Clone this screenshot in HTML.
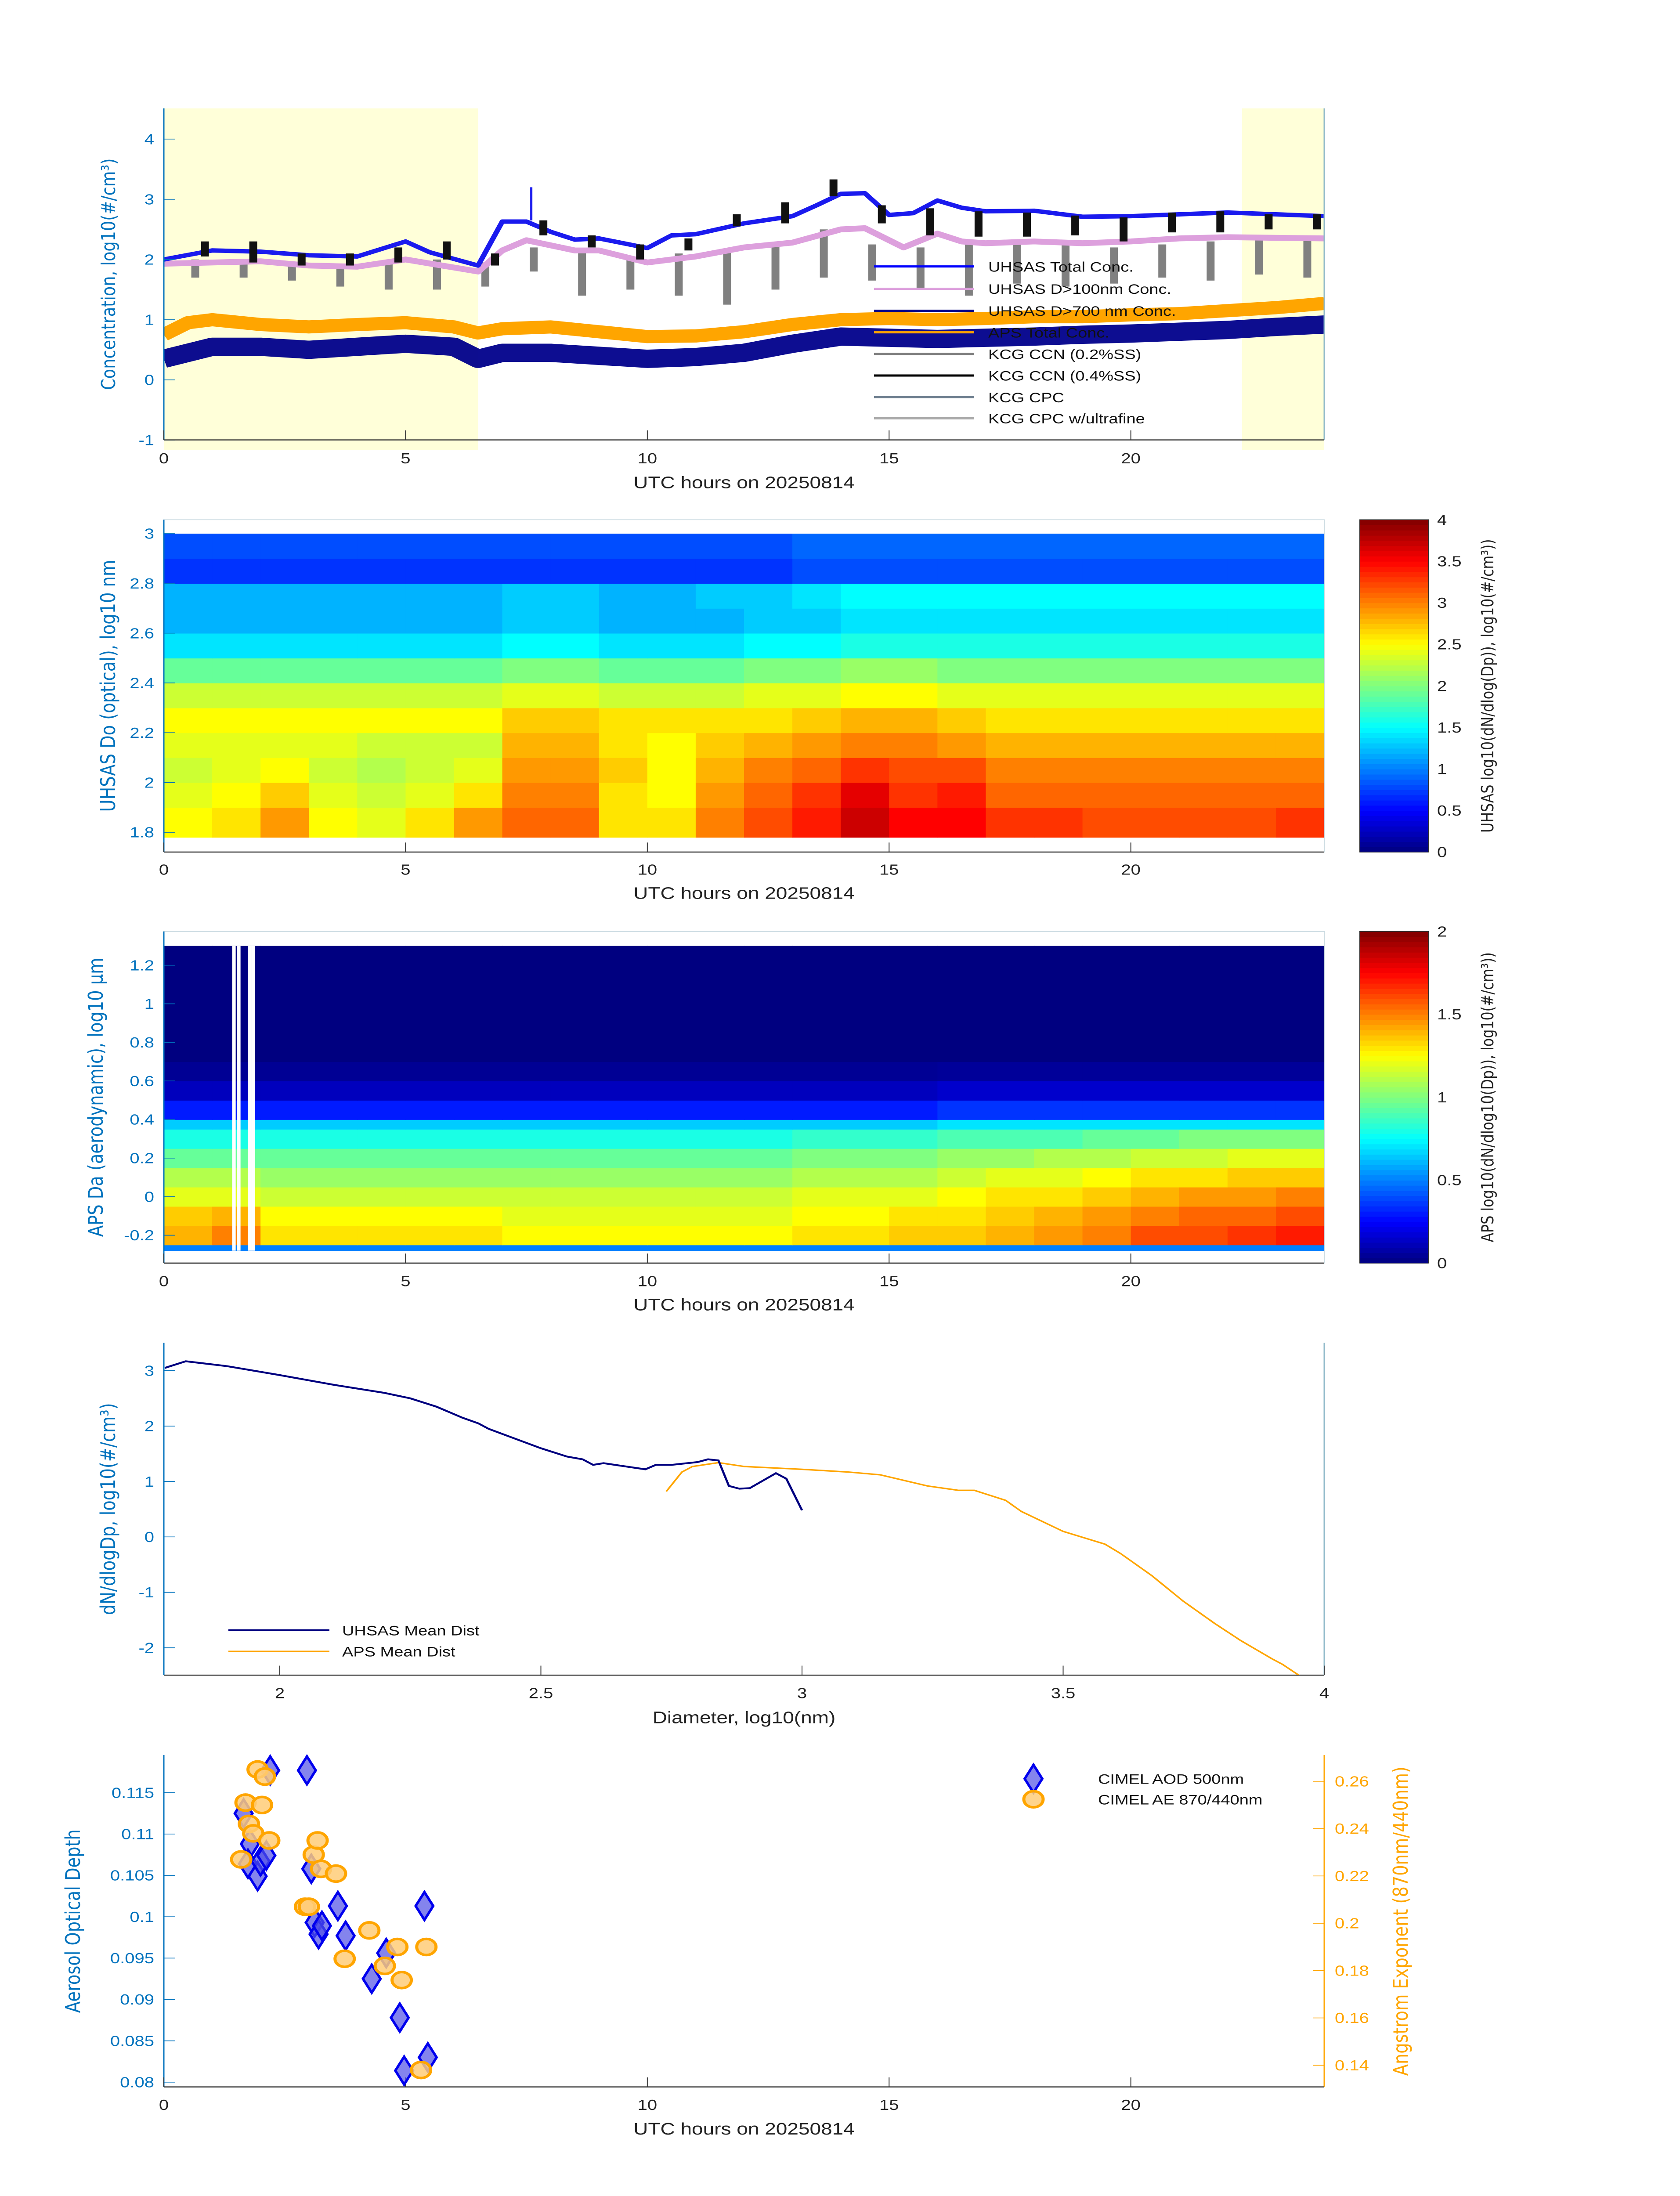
<!DOCTYPE html>
<html><head><meta charset="utf-8">
<meta name="viewport" content="width=3825">
<style>
html,body{margin:0;padding:0;background:#fff;width:100%;height:100%;overflow:hidden;}
svg{display:block;position:fixed;left:0;top:0;width:100vw;height:100vh;}
text{font-family:"Liberation Sans",sans-serif;}
</style></head>
<body>
<svg id="fig" viewBox="0 0 3825 6000" preserveAspectRatio="none" xmlns="http://www.w3.org/2000/svg">
<defs>
<clipPath id="c4"><rect x="373" y="3669" width="2642" height="908"/></clipPath>
<clipPath id="c1"><rect x="373" y="296" width="2642" height="906"/></clipPath>
</defs>
</svg>
<script>
// ===== Panel 1 data =====
const blueT=[0,1,2,3,4,5,5.5,6.5,7,7.5,8,8.5,9,10,10.5,11,12,13,13.5,14,14.5,15,15.5,16,16.5,17,18,19,20,21,22,23,24];
const blueV=[2.0,2.15,2.13,2.07,2.05,2.3,2.12,1.9,2.63,2.63,2.46,2.33,2.35,2.19,2.4,2.42,2.6,2.72,2.9,3.09,3.1,2.74,2.77,2.98,2.86,2.8,2.81,2.71,2.72,2.75,2.78,2.75,2.72];
const pinkT=[0,2,3,4,5,6.5,7,7.5,8.5,9,10,11,12,13,14,14.5,15.3,16,16.5,17,18,19,20,21,22,24];
const pinkV=[1.93,1.97,1.9,1.88,2.0,1.8,2.15,2.32,2.15,2.15,1.95,2.05,2.2,2.28,2.5,2.52,2.2,2.43,2.3,2.27,2.3,2.27,2.3,2.35,2.37,2.35];
const apsT=[0,0.5,1,2,3,4,5,6,6.5,7,8,9,10,11,12,13,14,15,16,17,18,19,20,21,22,23,24];
const apsV=[0.75,0.95,1.0,0.92,0.88,0.92,0.95,0.88,0.78,0.85,0.88,0.8,0.72,0.73,0.8,0.92,1.0,1.02,1.0,1.02,1.05,1.05,1.08,1.1,1.15,1.2,1.27];
const navT=[0,1,2,3,4,5,6,6.5,7,8,9,10,11,12,13,14,15,16,17,18,19,20,21,22,23,24];
const navV=[0.35,0.55,0.55,0.5,0.55,0.6,0.55,0.35,0.45,0.45,0.4,0.35,0.38,0.45,0.6,0.72,0.7,0.68,0.7,0.72,0.75,0.77,0.8,0.83,0.88,0.92];
const ccnBlackTop=[2.3,2.3,2.1,2.1,2.2,2.3,2.1,2.65,2.4,2.25,2.35,2.75,2.95,3.33,2.9,2.85,2.8,2.78,2.73,2.7,2.78,2.8,2.75,2.75];
const ccnBlackBot=[2.05,1.95,1.9,1.9,1.95,2.0,1.9,2.4,2.2,2.0,2.15,2.55,2.6,3.05,2.6,2.4,2.38,2.38,2.4,2.3,2.45,2.45,2.5,2.5];
const ccnGreyTop=[2.0,2.0,1.95,1.9,1.95,2.0,1.95,2.2,2.15,2.05,2.1,2.15,2.25,2.5,2.25,2.2,2.25,2.25,2.25,2.2,2.25,2.3,2.35,2.35];
const ccnGreyBot=[1.7,1.7,1.65,1.55,1.5,1.5,1.55,1.8,1.4,1.5,1.4,1.25,1.5,1.7,1.65,1.5,1.4,1.6,1.55,1.6,1.7,1.65,1.75,1.7];
const p1Yticks=[-1,0,1,2,3,4];
const xTicksHours=[0,5,10,15,20];
// ===== Panel 2 data =====
const uhsasEdges=[1.78,1.9,2.0,2.1,2.2,2.3,2.4,2.5,2.6,2.7,2.8,2.9,3.0];
const uhsasGrid=[
[2.5,2.6,2.9,2.5,2.4,2.6,2.9,3.1,3.1,2.6,2.6,3.0,3.2,3.4,3.7,3.5,3.5,3.3,3.3,3.2,3.2,3.2,3.2,3.3],
[2.4,2.5,2.7,2.4,2.3,2.4,2.6,3.0,3.0,2.6,2.5,2.9,3.1,3.3,3.6,3.3,3.4,3.1,3.1,3.1,3.1,3.1,3.1,3.1],
[2.3,2.4,2.5,2.3,2.2,2.3,2.4,2.9,2.9,2.7,2.5,2.8,3.0,3.1,3.3,3.2,3.2,3.0,3.0,3.0,3.0,3.0,3.0,3.0],
[2.4,2.4,2.4,2.4,2.3,2.3,2.3,2.8,2.8,2.6,2.5,2.7,2.8,2.9,3.0,3.0,2.9,2.8,2.8,2.8,2.8,2.8,2.8,2.8],
[2.5,2.5,2.5,2.5,2.5,2.5,2.5,2.7,2.7,2.6,2.6,2.6,2.6,2.7,2.8,2.8,2.7,2.6,2.6,2.6,2.6,2.6,2.6,2.6],
[2.3,2.3,2.3,2.3,2.3,2.3,2.3,2.4,2.4,2.3,2.3,2.3,2.4,2.4,2.5,2.5,2.4,2.4,2.4,2.4,2.4,2.4,2.4,2.4],
[1.9,1.9,1.9,1.9,1.9,1.9,1.9,2.0,2.0,1.9,1.9,1.9,2.0,2.0,2.1,2.1,2.0,2.0,2.0,2.0,2.0,2.0,2.0,2.0],
[1.4,1.4,1.4,1.4,1.4,1.4,1.4,1.5,1.5,1.4,1.4,1.4,1.5,1.5,1.6,1.6,1.6,1.6,1.6,1.6,1.6,1.6,1.6,1.6],
[1.2,1.2,1.2,1.2,1.2,1.2,1.2,1.3,1.3,1.2,1.2,1.2,1.3,1.3,1.4,1.4,1.4,1.4,1.4,1.4,1.4,1.4,1.4,1.4],
[1.2,1.2,1.2,1.2,1.2,1.2,1.2,1.3,1.3,1.2,1.2,1.3,1.3,1.4,1.5,1.5,1.5,1.5,1.5,1.5,1.5,1.5,1.5,1.5],
[0.7,0.7,0.7,0.7,0.7,0.7,0.7,0.7,0.7,0.7,0.7,0.7,0.7,0.8,0.8,0.8,0.8,0.8,0.8,0.8,0.8,0.8,0.8,0.8],
[0.8,0.8,0.8,0.8,0.8,0.8,0.8,0.8,0.8,0.8,0.8,0.8,0.8,0.9,0.9,0.9,0.9,0.9,0.9,0.9,0.9,0.9,0.9,0.9]];
const p2Yticks=[1.8,2.0,2.2,2.4,2.6,2.8,3.0];
const cb2Ticks=[0,0.5,1,1.5,2,2.5,3,3.5,4];
// ===== Panel 3 data =====
const apsEdges=[-0.28,-0.25,-0.15,-0.05,0.05,0.15,0.25,0.35,0.4,0.5,0.6,0.7,1.3];
const apsGrid=[
[0.5,0.5,0.5,0.5,0.5,0.5,0.5,0.5,0.5,0.5,0.5,0.5,0.5,0.5,0.5,0.5,0.5,0.5,0.5,0.5,0.5,0.5,0.5,0.5],
[1.4,1.5,1.3,1.3,1.3,1.3,1.3,1.25,1.25,1.25,1.25,1.25,1.25,1.3,1.3,1.35,1.35,1.4,1.45,1.5,1.6,1.6,1.65,1.7],
[1.35,1.4,1.25,1.25,1.25,1.25,1.25,1.2,1.2,1.2,1.2,1.2,1.2,1.25,1.25,1.3,1.3,1.35,1.4,1.45,1.5,1.55,1.55,1.6],
[1.2,1.2,1.15,1.15,1.15,1.15,1.15,1.15,1.15,1.15,1.15,1.15,1.15,1.2,1.2,1.2,1.25,1.3,1.3,1.35,1.4,1.45,1.45,1.5],
[1.1,1.1,1.05,1.05,1.05,1.05,1.05,1.05,1.05,1.05,1.05,1.05,1.05,1.1,1.1,1.1,1.15,1.2,1.2,1.25,1.3,1.3,1.35,1.35],
[0.95,0.95,0.95,0.95,0.95,0.95,0.95,0.95,0.95,0.95,0.95,0.95,0.95,1.0,1.0,1.0,1.05,1.05,1.1,1.1,1.15,1.15,1.2,1.2],
[0.8,0.8,0.8,0.8,0.8,0.8,0.8,0.8,0.8,0.8,0.8,0.8,0.8,0.85,0.85,0.85,0.9,0.9,0.9,0.95,0.95,1.0,1.0,1.0],
[0.65,0.65,0.65,0.65,0.65,0.65,0.65,0.65,0.65,0.65,0.65,0.65,0.65,0.65,0.65,0.65,0.7,0.7,0.7,0.7,0.7,0.7,0.7,0.7],
[0.3,0.3,0.3,0.3,0.3,0.3,0.3,0.3,0.3,0.3,0.3,0.3,0.3,0.3,0.3,0.3,0.35,0.35,0.35,0.35,0.35,0.35,0.35,0.35],
[0.12,0.12,0.12,0.12,0.12,0.12,0.12,0.12,0.12,0.12,0.12,0.12,0.12,0.12,0.12,0.12,0.15,0.15,0.15,0.15,0.15,0.15,0.15,0.15],
[0.04,0.04,0.04,0.04,0.04,0.04,0.04,0.04,0.04,0.04,0.04,0.04,0.04,0.04,0.04,0.04,0.05,0.05,0.05,0.05,0.05,0.05,0.05,0.05],
[0,0,0,0,0,0,0,0,0,0,0,0,0,0,0,0,0,0,0,0,0,0,0,0]];
const apsGapHours=[1.45,1.55,1.78,1.85];
const p3Yticks=[-0.2,0,0.2,0.4,0.6,0.8,1,1.2];
const cb3Ticks=[0,0.5,1,1.5,2];
// ===== Panel 4 data =====
const uhsasDistX=[1.78,1.82,1.9,1.95,2.0,2.1,2.12,2.2,2.25,2.3,2.35,2.38,2.4,2.5,2.55,2.58,2.6,2.62,2.7,2.72,2.75,2.8,2.82,2.84,2.86,2.88,2.9,2.95,2.97,3.0];
const uhsasDistY=[3.05,3.17,3.08,3.0,2.92,2.75,2.72,2.6,2.5,2.35,2.15,2.05,1.95,1.6,1.45,1.4,1.3,1.33,1.22,1.3,1.3,1.35,1.4,1.38,0.92,0.87,0.88,1.15,1.05,0.48];
const apsDistX=[2.74,2.77,2.79,2.84,2.89,3.0,3.09,3.15,3.24,3.3,3.33,3.39,3.42,3.5,3.58,3.61,3.67,3.73,3.79,3.84,3.9,3.92,3.96];
const apsDistY=[0.82,1.17,1.27,1.34,1.27,1.22,1.17,1.12,0.92,0.84,0.84,0.66,0.46,0.1,-0.13,-0.3,-0.7,-1.16,-1.56,-1.87,-2.2,-2.3,-2.55];
const p4Xticks=[2,2.5,3,3.5,4];
const p4Yticks=[-2,-1,0,1,2,3];
// ===== Panel 5 data =====
const aodT=[1.65,1.78,1.74,1.94,2.0,2.12,2.2,2.96,3.05,3.12,3.2,3.27,3.6,3.76,4.3,4.6,4.88,4.97,5.39,5.46];
const aodV=[0.1125,0.1088,0.1064,0.1049,0.1067,0.1074,0.1177,0.1177,0.1058,0.0993,0.0979,0.0989,0.1013,0.0977,0.0925,0.0956,0.0878,0.0814,0.1013,0.083];
const aeT=[1.6,1.69,1.76,1.85,1.94,2.03,2.09,2.18,2.92,3.0,3.1,3.18,3.25,3.56,3.74,4.25,4.57,4.83,4.92,5.32,5.43];
const aeV=[0.227,0.251,0.242,0.238,0.265,0.250,0.262,0.235,0.207,0.207,0.229,0.235,0.223,0.221,0.185,0.197,0.182,0.19,0.176,0.138,0.19];
const p5Lticks=[0.08,0.085,0.09,0.095,0.1,0.105,0.11,0.115];
const p5Lfmt=['0.08','0.085','0.09','0.095','0.1','0.105','0.11','0.115'];
const p5Rticks=[0.14,0.16,0.18,0.2,0.22,0.24,0.26];

const svg=document.getElementById('fig');
const NS='http://www.w3.org/2000/svg';
function mk(tag,attrs,parent){const e=document.createElementNS(NS,tag);for(const k in attrs)e.setAttribute(k,attrs[k]);(parent||svg).appendChild(e);return e;}
function txt(s,attrs,parent){const e=mk('text',attrs,parent);e.textContent=s;return e;}
function jet(v,lo,hi){let t=(v-lo)/(hi-lo);t=Math.max(0,Math.min(1,t));const c=x=>Math.round(255*Math.max(0,Math.min(1,1.5-Math.abs(4*t-x))));return 'rgb('+c(3)+','+c(2)+','+c(1)+')';}
function poly(xs,ys,fx,fy){return xs.map((x,i)=>fx(x).toFixed(1)+','+fy(ys[i]).toFixed(1)).join(' ');}

const X0=373,X1=3015;
const xh=t=>X0+t/24*(X1-X0);
const BLUE='#0072BD';

function xAxisHours(top,bot,labY,titleY,name){
  const ax=mk('line',{x1:X0,y1:bot,x2:X1,y2:bot,stroke:'#333',"stroke-width":3});
  
  
  xTicksHours.forEach(t=>{
    const tk=mk('line',{x1:xh(t),y1:bot,x2:xh(t),y2:bot-26,stroke:'#333',"stroke-width":2});
    
    
    const l=txt(String(t),{x:xh(t),y:labY,"font-size":40,"text-anchor":"middle",fill:'#222'});
    
    
  });
  const tt=txt('UTC hours on 20250814',{x:(X0+X1)/2,y:titleY,"font-size":46,"text-anchor":"middle",fill:'#222'});
  
  
}
function yAxisLeft(top,bot,ticks,fy,name,fmt,color){
  const ax=mk('line',{x1:X0,y1:top,x2:X0,y2:bot,stroke:color||BLUE,"stroke-width":3});
  
  
  ticks.forEach((v,i)=>{
    const tk=mk('line',{x1:X0,y1:fy(v),x2:X0+26,y2:fy(v),stroke:color||BLUE,"stroke-width":2});
    
    
    const l=txt(fmt?fmt[i]:String(v),{x:X0-22,y:fy(v)+14,"font-size":40,"text-anchor":"end",fill:color||BLUE});
    
    
  });
}
function yTitle(s,x,cy,name,color,size){
  const t=txt(s,{x:0,y:0,"font-size":size||46,"text-anchor":"middle",fill:color||BLUE,transform:'translate('+x+','+cy+') rotate(-90)',style:'font-family:"DejaVu Sans",sans-serif'});
  
  
  return t;
}
function colorbar(top,bot,lo,hi,ticks,label,name){
  const cx0=3096,cx1=3252,n=64,h=(bot-top)/n;
  for(let i=0;i<n;i++){
    const r=mk('rect',{x:cx0,y:bot-(i+1)*h,width:cx1-cx0,height:h+1,fill:jet(lo+(i+0.5)/n*(hi-lo),lo,hi)});
    
    
  }
  const b=mk('rect',{x:cx0,y:top,width:cx1-cx0,height:bot-top,fill:'none',stroke:'#333',"stroke-width":2});
  
  
  ticks.forEach(v=>{
    const y=bot-(v-lo)/(hi-lo)*(bot-top);
    const l=txt(String(v),{x:3272,y:y+14,"font-size":40,fill:'#222'});
    
    
  });
  const t=txt(label,{x:0,y:0,"font-size":38,"text-anchor":"middle",fill:'#222',transform:'translate(3400,'+((top+bot)/2)+') rotate(-90)',style:'font-family:"DejaVu Sans",sans-serif'});
  
  
}

// ================= PANEL 1 =================
(function(){
  const top=296,bot=1202;
  const fy=v=>1038-v*164.5;
  const sh1=mk('rect',{x:xh(0),y:top,width:xh(6.5)-xh(0),height:bot-top+28,fill:'#ffffd9'});
  
  
  const sh2=mk('rect',{x:xh(22.3),y:top,width:xh(24)-xh(22.3),height:bot-top+28,fill:'#ffffd9'});
  
  
  const g=mk('g',{"clip-path":'url(#c1)'});
  
  
  ccnGreyTop.forEach((v,i)=>{
    const x=xh(i+0.65);
    const r=mk('rect',{x:x-9,y:fy(v),width:18,height:fy(ccnGreyBot[i])-fy(v),fill:'#808080'},g);
    
    
  });
  const n=mk('polyline',{points:poly(navT,navV,xh,fy),fill:'none',stroke:'#00008B',"stroke-width":50,"stroke-linejoin":'round',opacity:0.95},g);
  
  
  const o=mk('polyline',{points:poly(apsT,apsV,xh,fy),fill:'none',stroke:'#FFA500',"stroke-width":36,"stroke-linejoin":'round'},g);
  
  
  const p=mk('polyline',{points:poly(pinkT,pinkV,xh,fy),fill:'none',stroke:'#DDA0DD',"stroke-width":16,"stroke-linejoin":'round'},g);
  
  
  const b=mk('polyline',{points:poly(blueT,blueV,xh,fy),fill:'none',stroke:'#1a1aee',"stroke-width":12,"stroke-linejoin":'round'},g);
  
  
  const sp=mk('line',{x1:xh(7.6),y1:fy(3.2),x2:xh(7.6),y2:fy(2.65),stroke:'#1a1aee',"stroke-width":5},g);
  
  
  ccnBlackTop.forEach((v,i)=>{
    const x=xh(i+0.85);
    const r=mk('rect',{x:x-9,y:fy(v),width:18,height:fy(ccnBlackBot[i])-fy(v),fill:'#111'},g);
    
    
  });
  const ax=mk('line',{x1:X1,y1:top,x2:X1,y2:bot,stroke:'#8fb8c8',"stroke-width":3});
  
  
  yAxisLeft(top,bot,p1Yticks,fy,'panel1');
  xAxisHours(top,bot,1266,1334,'panel1');
  yTitle('Concentration, log10(#/cm³)',262,(top+bot)/2,'panel1-y-axis-title',BLUE,44);
  const legNames=['UHSAS Total Conc.','UHSAS D>100nm Conc.','UHSAS D>700 nm Conc.','APS Total Conc.','KCG CCN (0.2%SS)','KCG CCN (0.4%SS)','KCG CPC','KCG CPC w/ultrafine'];
  const legCols=['#0000ff','#DDA0DD','#00008B','#FFA500','#808080','#000000','#708090','#aaaaaa'];
  const legY=[728,789,849,908,967,1026,1085,1143];
  legNames.forEach((s,i)=>{
    const l=mk('line',{x1:1990,y1:legY[i],x2:2218,y2:legY[i],stroke:legCols[i],"stroke-width":6});
    
    
    const t=txt(s,{x:2250,y:legY[i]+14,"font-size":38,fill:'#111'});
    
    
  });
})();

// ================= PANEL 2 =================
(function(){
  const top=1420,bot=2328;
  const fy=d=>2274-(d-1.8)*680;
  uhsasGrid.forEach((row,ri)=>{
    row.forEach((v,ci)=>{
      const y0=fy(uhsasEdges[ri+1]),y1=fy(uhsasEdges[ri]);
      const r=mk('rect',{x:xh(ci),y:y0,width:xh(ci+1)-xh(ci)+1,height:y1-y0+1,fill:jet(v,0,4)});
      
      
    });
  });
  const ax=mk('rect',{x:X0,y:top,width:X1-X0,height:bot-top,fill:'none',stroke:'#c9d9e0',"stroke-width":2});
  
  
  yAxisLeft(top,bot,p2Yticks,fy,'panel2',['1.8','2','2.2','2.4','2.6','2.8','3']);
  xAxisHours(top,bot,2390,2456,'panel2');
  yTitle('UHSAS Do (optical), log10 nm',262,1874,'panel2-y-axis-title');
  colorbar(top,bot,0,4,cb2Ticks,'UHSAS log10(dN/dlog(Dp)), log10(#/cm³))','panel2');
})();

// ================= PANEL 3 =================
(function(){
  const top=2545,bot=3451;
  const fy=d=>3375-(d+0.2)*527;
  apsGrid.forEach((row,ri)=>{
    row.forEach((v,ci)=>{
      const y0=fy(apsEdges[ri+1]),y1=fy(apsEdges[ri]);
      const r=mk('rect',{x:xh(ci),y:y0,width:xh(ci+1)-xh(ci)+1,height:y1-y0+1,fill:jet(v,0,2)});
      
      
    });
  });
  apsGapHours.forEach(t=>{
    const r=mk('rect',{x:xh(t)-4,y:fy(1.3),width:8,height:fy(-0.28)-fy(1.3),fill:'#fff'});
    
    
  });
  const ax=mk('rect',{x:X0,y:top,width:X1-X0,height:bot-top,fill:'none',stroke:'#c9d9e0',"stroke-width":2});
  
  
  yAxisLeft(top,bot,p3Yticks,fy,'panel3');
  xAxisHours(top,bot,3514,3580,'panel3');
  yTitle('APS Da (aerodynamic), log10 μm',234,2998,'panel3-y-axis-title');
  colorbar(top,bot,0,2,cb3Ticks,'APS log10(dN/dlog10(Dp)), log10(#/cm³))','panel3');
})();

// ================= PANEL 4 =================
(function(){
  const top=3669,bot=4577;
  const fx=d=>637+(d-2)*1189;
  const fy=v=>3745-(v-3)*151.4;
  const ax=mk('line',{x1:X0,y1:bot,x2:X1,y2:bot,stroke:'#333',"stroke-width":3});
  
  
  const rx=mk('line',{x1:X1,y1:top,x2:X1,y2:bot,stroke:'#8fb8c8',"stroke-width":3});
  
  
  p4Xticks.forEach(d=>{
    const tk=mk('line',{x1:fx(d),y1:bot,x2:fx(d),y2:bot-26,stroke:'#333',"stroke-width":2});
    
    
    const l=txt(String(d),{x:fx(d),y:4640,"font-size":40,"text-anchor":"middle",fill:'#222'});
    
    
  });
  const tt=txt('Diameter,  log10(nm)',{x:1694,y:4708,"font-size":46,"text-anchor":"middle",fill:'#222'});
  
  
  yAxisLeft(top,bot,p4Yticks,fy,'panel4');
  yTitle('dN/dlogDp, log10(#/cm³)',262,4123,'panel4-y-axis-title');
  const g=mk('g',{"clip-path":'url(#c4)'});
  
  
  const a=mk('polyline',{points:poly(apsDistX,apsDistY,fx,fy),fill:'none',stroke:'#FFA500',"stroke-width":4},g);
  
  
  const u=mk('polyline',{points:poly(uhsasDistX,uhsasDistY,fx,fy),fill:'none',stroke:'#00007f',"stroke-width":5},g);
  
  
  const l1=mk('line',{x1:520,y1:4454,x2:750,y2:4454,stroke:'#00007f',"stroke-width":5});
  
  
  const t1=txt('UHSAS Mean Dist',{x:779,y:4468,"font-size":38,fill:'#111'});
  
  
  const l2=mk('line',{x1:520,y1:4512,x2:750,y2:4512,stroke:'#FFA500',"stroke-width":4});
  
  
  const t2=txt('APS Mean Dist',{x:779,y:4526,"font-size":38,fill:'#111'});
  
  
})();

// ================= PANEL 5 =================
(function(){
  const top=4795,bot=5702;
  const fy=a=>4898+(0.115-a)/0.005*113;
  const fr=v=>4867+(0.26-v)/0.02*129.3;
  yAxisLeft(top,bot,p5Lticks,fy,'panel5',p5Lfmt);
  const ra=mk('line',{x1:X1,y1:top,x2:X1,y2:bot,stroke:'#FFA500',"stroke-width":3});
  
  
  p5Rticks.forEach(v=>{
    const tk=mk('line',{x1:X1-26,y1:fr(v),x2:X1,y2:fr(v),stroke:'#FFA500',"stroke-width":2});
    
    
    const l=txt(String(v),{x:X1+24,y:fr(v)+14,"font-size":40,fill:'#FFA500'});
    
    
  });
  xAxisHours(top,bot,5765,5832,'panel5');
  yTitle('Aerosol Optical Depth',182,5249,'panel5-y-axis-title');
  const rt=txt('Angstrom Exponent (870nm/440nm)',{x:0,y:0,"font-size":46,"text-anchor":"middle",fill:'#FFA500',transform:'translate(3205,5249) rotate(-90)',style:'font-family:"DejaVu Sans",sans-serif'});
  
  
  function diamond(cx,cy){return (cx)+','+(cy-38)+' '+(cx+20)+','+cy+' '+cx+','+(cy+38)+' '+(cx-20)+','+cy;}
  aodT.forEach((t,i)=>{
    const d=mk('polygon',{points:diamond(xh(t),fy(aodV[i])),fill:'rgba(80,80,230,0.7)',stroke:'#0000ee',"stroke-width":6});
    
    
  });
  aeT.forEach((t,i)=>{
    const c=mk('circle',{cx:xh(t),cy:fr(aeV[i]),r:22,fill:'rgba(255,205,120,0.85)',stroke:'#FFA500',"stroke-width":7});
    
    
  });
  const ld=mk('polygon',{points:diamond(2353,4860),fill:'rgba(80,80,230,0.7)',stroke:'#0000ee',"stroke-width":6});
  
  
  const lt=txt('CIMEL AOD 500nm',{x:2500,y:4874,"font-size":38,fill:'#111'});
  
  
  const lc=mk('circle',{cx:2353,cy:4916,r:22,fill:'rgba(255,205,120,0.85)',stroke:'#FFA500',"stroke-width":7});
  
  
  const lt2=txt('CIMEL AE 870/440nm',{x:2500,y:4930,"font-size":38,fill:'#111'});
  
  
})();
</script>
</body></html>
